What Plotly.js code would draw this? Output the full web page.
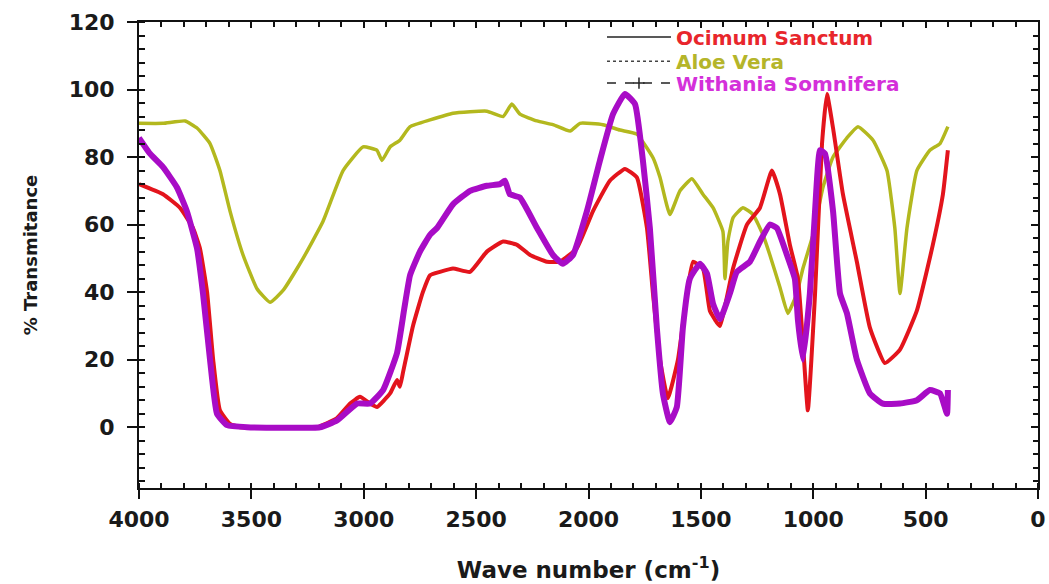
<!DOCTYPE html>
<html>
<head>
<meta charset="utf-8">
<script src="https://cdn.plot.ly/plotly-3.0.1.min.js"></script>
<style>html,body{margin:0;padding:0;background:#fff;}#chart{width:1049px;height:584px;}</style>
</head>
<body>
<div id="chart"></div>
<script>
// Ocimum Sanctum (red)
const ocimumWave = [4000,3893,3818,3760,3729,3697,3670,3640,3595,3550,3400,3208,3119,3061,3017,2972,2941,2883,2852,2839,2826,2781,2737,2705,2661,2603,2527,2452,2380,2318,2260,2185,2127,2052,1980,1905,1838,1785,1740,1713,1682,1647,1602,1562,1535,1491,1460,1429,1415,1357,1295,1237,1184,1148,1104,1068,1046,1024,992,961,939,912,868,806,748,681,614,539,468,423,401];
const ocimumT = [72,69,65,59,53,40,20,5,1,0,0,0,2.7,7,9,7,6,10,14,12,16,30,40,45,46,47,46,52,55,54,51,49,49,53,64,73,76.5,74,59,39.5,20,8.6,20,39.5,49,47,34.5,31,30,47,60,65,76,69,54,44,25,5,39.5,84,98.7,88.6,69,49,29.5,19,23,34.5,54,69,82];
// Aloe Vera (olive)
const aloeWave = [4000,3893,3795,3742,3684,3640,3595,3537,3475,3417,3359,3270,3181,3092,3003,2941,2919,2883,2839,2794,2705,2603,2452,2380,2341,2305,2229,2158,2082,2038,1936,1860,1785,1713,1682,1638,1593,1540,1491,1446,1402,1393,1380,1357,1313,1268,1224,1193,1148,1113,1073,1046,1001,957,912,850,801,734,672,637,614,583,539,481,436,401];
const aloeT = [90,90,90.7,88.6,84,76,64,51,41,37,40.5,50,61,76,83,82,79,83,85,89,91,93,93.6,92,95.7,92.7,90.7,89.6,87.7,90,89.6,88,86.8,79.8,74,63,70,73.6,69,65,58,44,55,62,65,63,57,51,41.4,33.7,39.6,47,57,71,80,85.7,89,85,76,59,39.6,59,76,82,84,89];
// Withania Somnifera (purple)
const withaniaWave = [4000,3951,3893,3831,3787,3742,3715,3684,3653,3608,3520,3195,3119,3030,2972,2914,2852,2820,2794,2750,2705,2674,2603,2527,2452,2394,2372,2350,2305,2229,2158,2114,2069,2007,1949,1891,1838,1793,1758,1727,1696,1669,1638,1607,1580,1549,1504,1473,1446,1415,1371,1340,1282,1237,1193,1162,1117,1082,1068,1046,1015,992,970,948,912,881,850,806,748,690,614,539,481,436,405,401];
const withaniaT = [85.7,81,77,71,64,53,39.5,20,4,0.6,0,0,2,7,7,11,22,35,45,52,57,59,66,70,71.5,72,73,69,68,59,51,48.4,51,64,79,92.7,98.7,95.7,79,59,29.5,10,1.5,6,29.5,44,48.4,45.5,36.6,32,39.6,46,49,55,60,59,51,44,31.6,20,39.6,64,82,81,64,39.6,33.7,20,10,7,7,8,11,10,4,11];

const seriesNames = ['Ocimum Sanctum','Aloe Vera','Withania Somnifera'];
const xTickVals = [4000,3500,3000,2500,2000,1500,1000,500,0];
const yTickVals = [0,20,40,60,80,100,120];

const lineColors = ['#e3141c','#b3b81e','#a80cc6'];
const textColors = ['#e8262c','#b5b52a','#d430da'];
const F = 'DejaVu Sans, Liberation Sans, Arial, sans-serif';

const traces = [
  {x: aloeWave, y: aloeT, mode:'lines', line:{color:lineColors[1], width:3.5, shape:'spline', smoothing:0.4}, showlegend:false, hoverinfo:'skip'},
  {x: ocimumWave, y: ocimumT, mode:'lines', line:{color:lineColors[0], width:4, shape:'spline', smoothing:0.4}, showlegend:false, hoverinfo:'skip'},
  {x: withaniaWave, y: withaniaT, mode:'lines', line:{color:lineColors[2], width:6, shape:'spline', smoothing:0.4}, showlegend:false, hoverinfo:'skip'},
  // legend entries
  {x:[null], y:[null], mode:'lines', line:{color:'#222', width:1.5, dash:'solid'}, name:'<span style="color:'+textColors[0]+'">'+seriesNames[0]+'</span>', legend:'legend'},
  {x:[null], y:[null], mode:'lines', line:{color:'#444', width:1.5, dash:'dot'}, name:'<span style="color:'+textColors[1]+'">'+seriesNames[1]+'</span>', legend:'legend2'},
  {x:[null], y:[null], mode:'lines+markers', line:{color:'#222', width:1.5, dash:'dash'}, marker:{symbol:'cross-thin', size:8, color:'#222', line:{color:'#222', width:1.5}}, name:'<span style="color:'+textColors[2]+'">'+seriesNames[2]+'</span>', legend:'legend3'},
  {x:[], y:[], xaxis:'x2', yaxis:'y', showlegend:false},
  {x:[], y:[], xaxis:'x', yaxis:'y2', showlegend:false}
];

const legendBase = {xanchor:'left', yanchor:'middle', bgcolor:'rgba(0,0,0,0)', borderwidth:0, font:{family:F, size:20, weight:'bold'}, itemclick:false, itemwidth:64};
const axLine = {showline:true, linewidth:2, linecolor:'#111', showgrid:false, zeroline:false, tickcolor:'#111', tickwidth:2};

const layout = {
  width:1049, height:584,
  margin:{l:139, r:11, t:22, b:96, autoexpand:false},
  paper_bgcolor:'#fff', plot_bgcolor:'#fff',
  showlegend:true,
  legend: Object.assign({}, legendBase, {x:0.515, y:0.968}),
  legend2: Object.assign({}, legendBase, {x:0.515, y:0.916}),
  legend3: Object.assign({}, legendBase, {x:0.515, y:0.869}),
  xaxis: Object.assign({}, axLine, {
    range:[4000,0], tickmode:'array', tickvals:xTickVals, ticktext:xTickVals.map(String),
    ticks:'outside', ticklen:9,
    minor:{dtick:100, tick0:0, ticks:'inside', ticklen:5, tickwidth:2, tickcolor:'#111'},
    tickfont:{family:F, size:22, weight:'bold', color:'#1a1a1a'},
    ticklabelstandoff:2,
    title:{text:'Wave number (cm<sup>-1</sup>)', font:{family:F, size:23, weight:'bold', color:'#1a1a1a'}, standoff:30},
    automargin:true
  }),
  xaxis2: Object.assign({}, axLine, {
    range:[4000,0], overlaying:'x', side:'top', anchor:'y', tickmode:'array', tickvals:xTickVals,
    ticks:'inside', ticklen:6, showticklabels:false,
    minor:{dtick:100, tick0:0, ticks:'inside', ticklen:5, tickwidth:2, tickcolor:'#111'}
  }),
  yaxis: Object.assign({}, axLine, {
    range:[-18,120], tickmode:'array', tickvals:yTickVals, ticktext:yTickVals.map(String),
    ticks:'outside', ticklen:10,
    minor:{dtick:4, tick0:0, ticks:'inside', ticklen:6, tickwidth:2, tickcolor:'#111'},
    tickfont:{family:F, size:22, weight:'bold', color:'#1a1a1a'},
    ticklabelstandoff:8,
    title:{text:'% Transmitance', font:{family:F, size:18, weight:'bold', color:'#1a1a1a'}, standoff:26},
    automargin:true
  }),
  yaxis2: Object.assign({}, axLine, {
    range:[-18,120], overlaying:'y', side:'right', anchor:'x', tickmode:'array', tickvals:yTickVals,
    ticks:'inside', ticklen:7, showticklabels:false,
    minor:{dtick:4, tick0:0, ticks:'inside', ticklen:5, tickwidth:2, tickcolor:'#111'}
  })
};

Plotly.newPlot('chart', traces, layout, {staticPlot:true, displayModeBar:false});
</script>
</body>
</html>
